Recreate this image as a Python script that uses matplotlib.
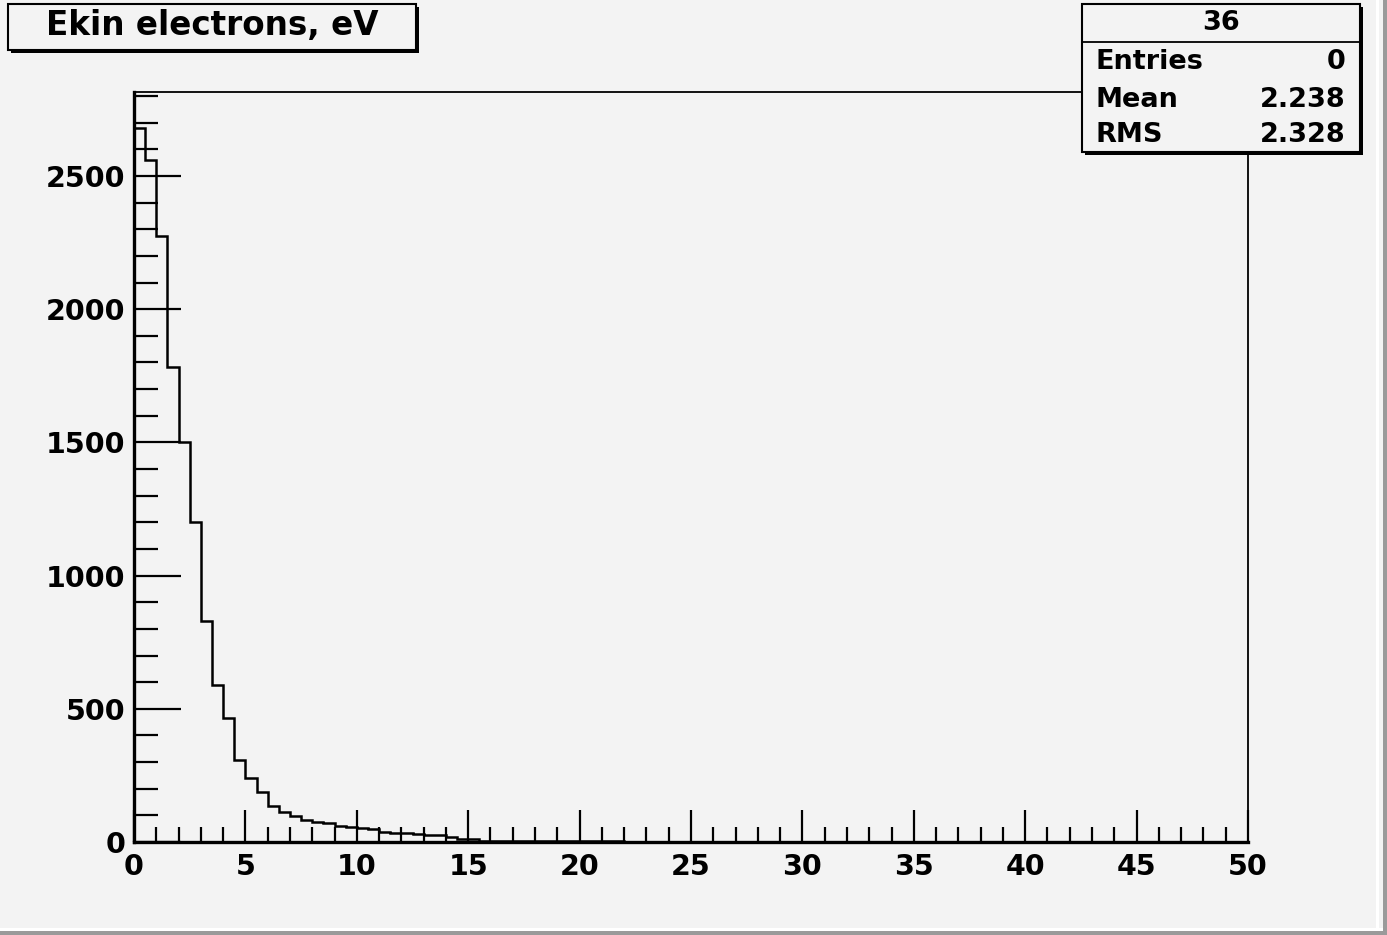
import numpy as np
import matplotlib
matplotlib.use("Agg")
import matplotlib.pyplot as plt
from matplotlib.patches import Rectangle
from matplotlib.ticker import MultipleLocator

# Histogram of electron kinetic energy, 100 bins of 0.5 eV from 0 to 50 eV
bin_edges = np.linspace(0.0, 50.0, 101)
bin_counts = [
    2681, 2559, 2275, 1781, 1503, 1200, 831, 590, 465, 308,
    239, 188, 135, 113, 96, 82, 75, 73, 60, 57,
    52, 50, 37, 35, 33, 31, 27, 25, 20, 13,
    10, 5, 4, 3, 3, 3, 4, 4, 2, 2,
    3, 2, 2, 2, 1, 1, 0, 0, 0, 0,
] + [0] * 50

hist_title = "Ekin electrons, eV"
stats_name = "36"
stats_rows = [("Entries", "0"), ("Mean", "2.238"), ("RMS", "2.328")]
x_ticks = [0, 5, 10, 15, 20, 25, 30, 35, 40, 45, 50]
y_ticks = [0, 500, 1000, 1500, 2000, 2500]

W, H = 1387, 935
bg = "#f3f3f3"
font = "DejaVu Sans"

fig = plt.figure(figsize=(W / 100, H / 100), dpi=100, facecolor=bg)

# Frame of the histogram pad (pixel geometry converted to figure fractions)
left, right, top, bottom = 134, 1248, 92, 842
ax = fig.add_axes([left / W, (H - bottom) / H, (right - left) / W, (bottom - top) / H])
ax.set_facecolor(bg)

counts = np.array(bin_counts, dtype=float)
ax.stairs(counts, bin_edges, color="black", linewidth=1.8, baseline=None)

ax.set_xlim(0, 50)
ax.set_ylim(0, counts.max() * 1.05)

ax.xaxis.set_major_locator(MultipleLocator(5))
ax.xaxis.set_minor_locator(MultipleLocator(1))
ax.yaxis.set_major_locator(MultipleLocator(500))
ax.yaxis.set_minor_locator(MultipleLocator(100))
ax.set_xticks(x_ticks)
ax.set_yticks(y_ticks)
ax.set_xticklabels([str(v) for v in x_ticks])
ax.set_yticklabels([str(v) for v in y_ticks])

ax.tick_params(axis="x", which="major", direction="in", length=23, width=1.6,
               pad=8, labelsize=20.5)
ax.tick_params(axis="x", which="minor", direction="in", length=11, width=1.6)
ax.tick_params(axis="y", which="major", direction="in", length=34, width=1.6,
               pad=6, labelsize=20.5)
ax.tick_params(axis="y", which="minor", direction="in", length=17, width=1.6)
for lab in ax.get_xticklabels() + ax.get_yticklabels():
    lab.set_fontfamily(font)
    lab.set_fontweight("bold")

for side in ("left", "bottom"):
    ax.spines[side].set_linewidth(2.4)
for side in ("top", "right"):
    ax.spines[side].set_linewidth(1.3)

# Overlay in pixel coordinates for the title and statistics boxes
ov = fig.add_axes([0, 0, 1, 1], facecolor="none")
ov.set_xlim(0, W)
ov.set_ylim(H, 0)
ov.axis("off")


def shadow_box(x0, y0, x1, y1):
    ov.add_patch(Rectangle((x0 + 3, y0 + 3), x1 - x0, y1 - y0,
                           facecolor="black", edgecolor="none", zorder=3))
    ov.add_patch(Rectangle((x0, y0), x1 - x0, y1 - y0,
                           facecolor=bg, edgecolor="black", linewidth=1.5, zorder=4))


# Title box
shadow_box(8, 4, 416, 50)
ov.text(212, 26, hist_title, ha="center", va="center", fontsize=23.5,
        fontfamily=font, fontweight="bold", zorder=5)

# Statistics box
sx0, sx1 = 1082, 1360
shadow_box(sx0, 4, sx1, 152)
ov.plot([sx0, sx1], [42, 42], color="black", linewidth=1.3, zorder=5)
ov.text((sx0 + sx1) / 2, 23, stats_name, ha="center", va="center", fontsize=19.5,
        fontfamily=font, fontweight="bold", zorder=5)
for (name, value), yc in zip(stats_rows, [62, 100, 135]):
    ov.text(1096, yc, name, ha="left", va="center", fontsize=19.5,
            fontfamily=font, fontweight="bold", zorder=5)
    ov.text(1346, yc, value, ha="right", va="center", fontsize=19.5,
            fontfamily=font, fontweight="bold", zorder=5)

# Bevelled canvas edge
ov.add_patch(Rectangle((0, 928), W, 3, facecolor="white", edgecolor="none", zorder=2))
ov.add_patch(Rectangle((0, 931), W, 4, facecolor="#9a9a9a", edgecolor="none", zorder=2))
ov.add_patch(Rectangle((1376, 0), 3, 931, facecolor="white", edgecolor="none", zorder=2))
ov.add_patch(Rectangle((1383, 0), 4, 935, facecolor="#9a9a9a", edgecolor="none", zorder=2))

fig.savefig("out.png", dpi=100, facecolor=bg)
